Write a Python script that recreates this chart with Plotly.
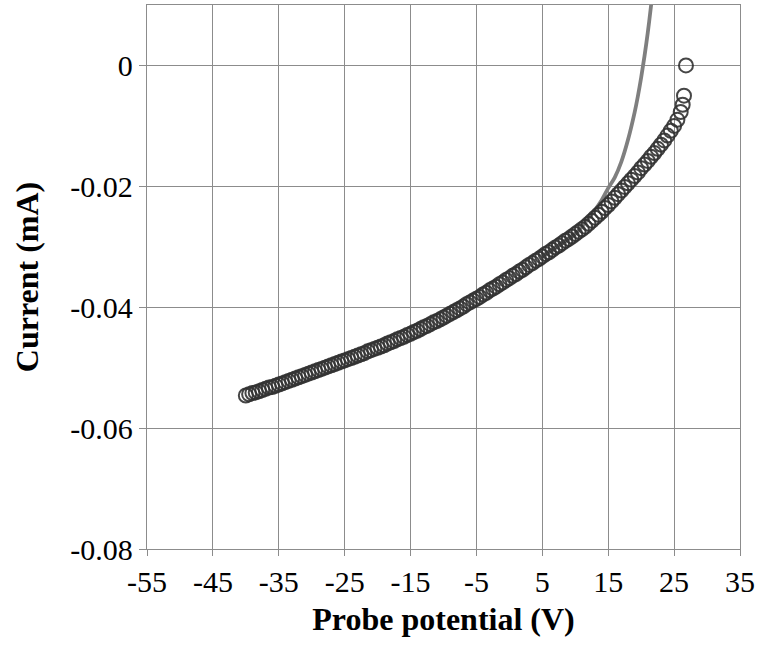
import plotly.graph_objects as go

# Measured probe data (open circles)
probe_v = [-40.0, -39.5, -39.0, -38.5, -38.0, -37.5, -37.0, -36.5, -36.0, -35.5,
           -35.0, -34.5, -34.0, -33.5, -33.0, -32.5, -32.0, -31.5, -31.0, -30.5,
           -30.0, -29.5, -29.0, -28.5, -28.0, -27.5, -27.0, -26.5, -26.0, -25.5,
           -25.0, -24.5, -24.0, -23.5, -23.0, -22.5, -22.0, -21.5, -21.0, -20.5,
           -20.0, -19.5, -19.0, -18.5, -18.0, -17.5, -17.0, -16.5, -16.0, -15.5,
           -15.0, -14.5, -14.0, -13.5, -13.0, -12.5, -12.0, -11.5, -11.0, -10.5,
           -10.0, -9.5, -9.0, -8.5, -8.0, -7.5, -7.0, -6.5, -6.0, -5.5,
           -5.0, -4.5, -4.0, -3.5, -3.0, -2.5, -2.0, -1.5, -1.0, -0.5,
           0.0, 0.5, 1.0, 1.5, 2.0, 2.5, 3.0, 3.5, 4.0, 4.5,
           5.0, 5.5, 6.0, 6.5, 7.0, 7.5, 8.0, 8.5, 9.0, 9.5,
           10.0, 10.5, 11.0, 11.5, 12.0, 12.5, 13.0, 13.5, 14.0, 14.5,
           15.0, 15.5, 16.0, 16.5, 17.0, 17.5, 18.0, 18.5, 19.0, 19.5,
           20.0, 20.5, 21.0, 21.5, 22.0, 22.5, 23.0, 23.5, 24.0, 24.5,
           25.0, 25.5, 26.0, 26.3, 26.5, 26.8]
probe_i = [-0.0546, -0.0544, -0.0542, -0.0541, -0.0539, -0.0537, -0.0535, -0.0533, -0.0532, -0.0530,
           -0.0528, -0.0526, -0.0524, -0.0522, -0.0520, -0.0518, -0.0516, -0.0514, -0.0512, -0.0510,
           -0.0508, -0.0506, -0.0504, -0.0502, -0.0500, -0.0498, -0.0496, -0.0494, -0.0492, -0.0490,
           -0.0488, -0.0486, -0.0484, -0.0482, -0.0480, -0.0478, -0.0476, -0.0473, -0.0471, -0.0469,
           -0.0467, -0.0465, -0.0463, -0.0460, -0.0458, -0.0456, -0.0453, -0.0451, -0.0449, -0.0446,
           -0.0444, -0.0441, -0.0439, -0.0436, -0.0433, -0.0431, -0.0428, -0.0425, -0.0423, -0.0420,
           -0.0417, -0.0414, -0.0411, -0.0408, -0.0405, -0.0402, -0.0399, -0.0395, -0.0392, -0.0389,
           -0.0386, -0.0383, -0.0379, -0.0376, -0.0372, -0.0369, -0.0366, -0.0362, -0.0359, -0.0355,
           -0.0352, -0.0348, -0.0345, -0.0341, -0.0338, -0.0334, -0.0330, -0.0327, -0.0323, -0.0320,
           -0.0316, -0.0312, -0.0309, -0.0305, -0.0301, -0.0298, -0.0294, -0.0290, -0.0287, -0.0283,
           -0.0279, -0.0275, -0.0271, -0.0267, -0.0262, -0.0257, -0.0252, -0.0247, -0.0242, -0.0236,
           -0.0231, -0.0225, -0.0219, -0.0213, -0.0207, -0.0201, -0.0195, -0.0189, -0.0183, -0.0177,
           -0.0170, -0.0164, -0.0158, -0.0151, -0.0145, -0.0138, -0.0131, -0.0124, -0.0116, -0.0108,
           -0.0100, -0.0090, -0.0077, -0.0065, -0.0050, 0.0000]

# Fitted curve (grey line)
fit_v = [5, 8, 10, 11, 12, 13, 14, 15, 16, 17, 18, 19, 19.5, 20, 20.5, 21, 21.5, 21.8]
fit_i = [-0.0316, -0.0294, -0.0278, -0.0266, -0.0253, -0.0239, -0.0223, -0.0203, -0.0185,
         -0.0159, -0.0123, -0.0078, -0.0051, -0.0020, 0.0015, 0.0054, 0.0099, 0.0128]

x_ticks = [-55, -45, -35, -25, -15, -5, 5, 15, 25, 35]
x_ticktext = ["-55", "-45", "-35", "-25", "-15", "-5", "5", "15", "25", "35"]
y_ticks = [-0.08, -0.06, -0.04, -0.02, 0]
y_ticktext = ["-0.08", "-0.06", "-0.04", "-0.02", "0"]

FONT = "Liberation Serif, Times New Roman, serif"
GRID = "#8c8c8c"

fig = go.Figure()
fig.add_trace(go.Scatter(
    x=fit_v, y=fit_i, mode="lines", line=dict(color="#7f7f7f", width=3.8, shape="spline"),
    showlegend=False, hoverinfo="skip"))
fig.add_trace(go.Scatter(
    x=probe_v, y=probe_i, mode="markers",
    marker=dict(symbol="circle-open", size=14, color="rgba(50,50,50,0.9)",
                line=dict(width=2, color="rgba(50,50,50,0.9)")),
    showlegend=False))

fig.update_layout(
    width=759, height=654,
    margin=dict(l=147, r=19, t=5, b=105),
    paper_bgcolor="white", plot_bgcolor="white",
    font=dict(family=FONT, size=30, color="black"),
    xaxis=dict(
        range=[-55, 35], tickvals=x_ticks, ticktext=x_ticktext,
        showgrid=True, gridcolor=GRID, gridwidth=1.3,
        showline=True, linecolor=GRID, linewidth=1.3, mirror=True,
        ticks="outside", ticklen=6, tickcolor=GRID, tickwidth=1.3,
        zeroline=False,
        title=dict(text="<b>Probe potential (V)</b>", font=dict(family=FONT, size=32), standoff=10),
    ),
    yaxis=dict(
        range=[-0.08, 0.01], tickvals=y_ticks, ticktext=y_ticktext,
        showgrid=True, gridcolor=GRID, gridwidth=1.3,
        showline=True, linecolor=GRID, linewidth=1.3, mirror=True,
        ticks="outside", ticklen=7, tickcolor=GRID, tickwidth=1.3,
        zeroline=False,
        title=dict(text="<b>Current (mA)</b>", font=dict(family=FONT, size=32), standoff=22),
    ),
)

fig.write_html("out.html")
